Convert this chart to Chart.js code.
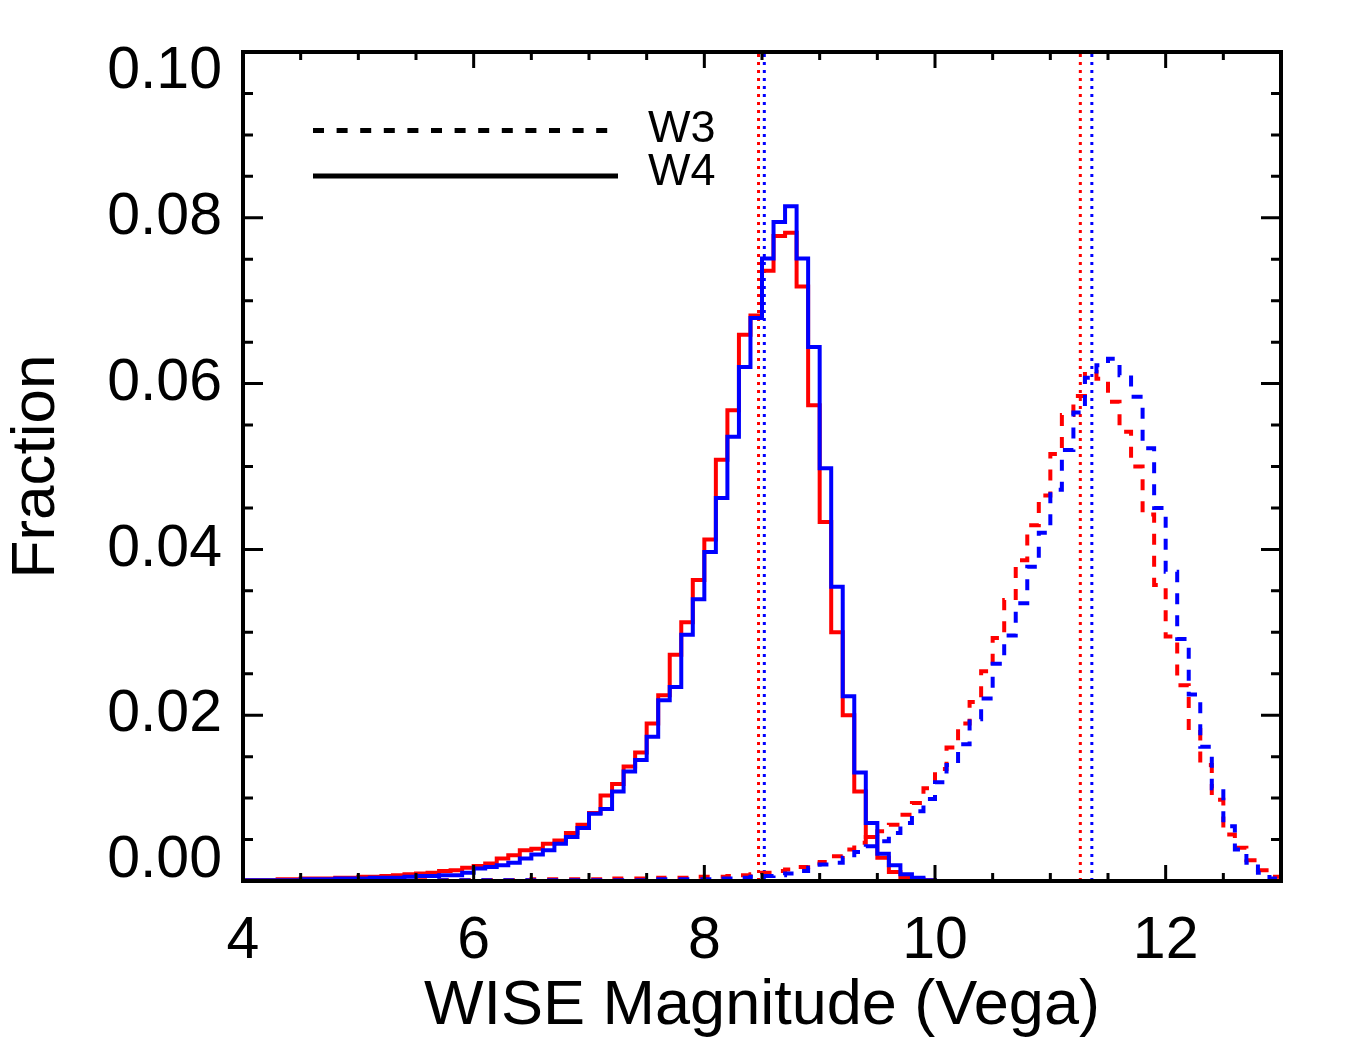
<!DOCTYPE html>
<html>
<head>
<meta charset="utf-8">
<title>WISE magnitude histograms</title>
<script src="https://cdn.jsdelivr.net/npm/chart.js@4.4.1/dist/chart.umd.min.js"></script>
<style>
  html, body { margin: 0; padding: 0; background: #fff; }
</style>
</head>
<body>
<canvas id="chart" width="1350" height="1050" style="width:1350px;height:1050px;display:block"></canvas>
<script>
'use strict';

// bin edges (mag), 0.1 wide
const binEdges = [
  4.0, 4.1, 4.2, 4.3, 4.4, 4.5, 4.6, 4.7, 4.8, 4.9,
  5.0, 5.1, 5.2, 5.3, 5.4, 5.5, 5.6, 5.7, 5.8, 5.9,
  6.0, 6.1, 6.2, 6.3, 6.4, 6.5, 6.6, 6.7, 6.8, 6.9,
  7.0, 7.1, 7.2, 7.3, 7.4, 7.5, 7.6, 7.7, 7.8, 7.9,
  8.0, 8.1, 8.2, 8.3, 8.4, 8.5, 8.6, 8.7, 8.8, 8.9,
  9.0, 9.1, 9.2, 9.3, 9.4, 9.5, 9.6, 9.7, 9.8, 9.9,
  10.0, 10.1, 10.2, 10.3, 10.4, 10.5, 10.6, 10.7, 10.8, 10.9,
  11.0, 11.1, 11.2, 11.3, 11.4, 11.5, 11.6, 11.7, 11.8, 11.9,
  12.0, 12.1, 12.2, 12.3, 12.4, 12.5, 12.6, 12.7, 12.8, 12.9,
  13.0
];

// index of the first bin of each band in binEdges
const w4FirstBin = 0;   // 4.0
const w3FirstBin = 15;  // 5.5

// W4 fractions, 4.0 - 10.0
const w4Red = [
  0.0001, 0.0001, 0.0001, 0.0002, 0.0002, 0.0003, 0.0003, 0.0003, 0.0004, 0.0004,
  0.0005, 0.0005, 0.0006, 0.0007, 0.0008, 0.0009, 0.0010, 0.0012, 0.0013, 0.0016,
  0.0018, 0.0021, 0.0027, 0.0031, 0.0037, 0.0039, 0.0045, 0.0049, 0.0058, 0.0068,
  0.0082, 0.0103, 0.0117, 0.0138, 0.0155, 0.0190, 0.0224, 0.0273, 0.0312, 0.0363,
  0.0412, 0.0508, 0.0568, 0.0659, 0.0682, 0.0736, 0.0778, 0.0782, 0.0717, 0.0574,
  0.0433, 0.0300, 0.0200, 0.0108, 0.0053, 0.0028, 0.0011, 0.0004, 0.0002, 0.0001
];
const w4Blue = [
  0.0001, 0.0001, 0.0001, 0.0001, 0.0001, 0.0002, 0.0002, 0.0002, 0.0003, 0.0003,
  0.0003, 0.0004, 0.0004, 0.0004, 0.0005, 0.0006, 0.0006, 0.0007, 0.0007, 0.0010,
  0.0015, 0.0017, 0.0019, 0.0022, 0.0027, 0.0032, 0.0037, 0.0045, 0.0053, 0.0064,
  0.0081, 0.0087, 0.0108, 0.0132, 0.0146, 0.0174, 0.0218, 0.0234, 0.0297, 0.0340,
  0.0397, 0.0462, 0.0536, 0.0620, 0.0679, 0.0751, 0.0795, 0.0814, 0.0751, 0.0644,
  0.0498, 0.0355, 0.0223, 0.0131, 0.0070, 0.0033, 0.0019, 0.0008, 0.0004, 0.0001
];

// W3 fractions, 5.5 - 13.0
const w3Red = [
  0.0001, 0.0001, 0.0001, 0.0001, 0.0001,
  0.0001, 0.0001, 0.0001, 0.0001, 0.0001, 0.0002, 0.0002, 0.0002, 0.0002, 0.0002,
  0.0002, 0.0002, 0.0003, 0.0003, 0.0003, 0.0003, 0.0004, 0.0004, 0.0004, 0.0005,
  0.0005, 0.0005, 0.0006, 0.0007, 0.0008, 0.0010, 0.0012, 0.0014, 0.0017, 0.0021,
  0.0023, 0.0030, 0.0038, 0.0046, 0.0053, 0.0060, 0.0068, 0.0080, 0.0094, 0.0112,
  0.0135, 0.0161, 0.0190, 0.0216, 0.0253, 0.0293, 0.0339, 0.0387, 0.0429, 0.0465,
  0.0515, 0.0562, 0.0585, 0.0614, 0.0606, 0.0578, 0.0542, 0.0500, 0.0442, 0.0357,
  0.0295, 0.0236, 0.0182, 0.0140, 0.0098, 0.0056, 0.0040, 0.0025, 0.0013, 0.0005
];
const w3Blue = [
  0.0000, 0.0000, 0.0001, 0.0001, 0.0001,
  0.0001, 0.0001, 0.0001, 0.0001, 0.0001, 0.0001, 0.0001, 0.0001, 0.0001, 0.0001,
  0.0001, 0.0001, 0.0001, 0.0001, 0.0001, 0.0001, 0.0002, 0.0002, 0.0002, 0.0002,
  0.0002, 0.0003, 0.0003, 0.0004, 0.0005, 0.0006, 0.0007, 0.0009, 0.0012, 0.0016,
  0.0020, 0.0022, 0.0028, 0.0035, 0.0042, 0.0048, 0.0058, 0.0070, 0.0084, 0.0099,
  0.0119, 0.0140, 0.0165, 0.0195, 0.0220, 0.0262, 0.0296, 0.0335, 0.0379, 0.0420,
  0.0472, 0.0520, 0.0565, 0.0607, 0.0622, 0.0630, 0.0610, 0.0584, 0.0522, 0.0450,
  0.0373, 0.0292, 0.0225, 0.0162, 0.0112, 0.0066, 0.0038, 0.0022, 0.0010, 0.0003
];

// median magnitudes (W4, W3)
const medianRed = [8.47, 11.26];
const medianBlue = [8.52, 11.36];

const xTickValues = [4, 6, 8, 10, 12];
const yTickValues = [0, 0.02, 0.04, 0.06, 0.08, 0.10];
const legendLabels = ['W3', 'W4'];

const RED = '#ff0000';
const BLUE = '#0000ff';
const FONT = '"Liberation Sans", Arial, Helvetica, sans-serif';
const DASH = [11, 11];

function histPoints(values, first) {
  const pts = values.map((v, i) => ({ x: binEdges[first + i], y: v }));
  pts.push({ x: binEdges[first + values.length], y: 0 });
  return pts;
}

function histSet(values, first, color, dashed, order) {
  return {
    data: histPoints(values, first),
    borderColor: color,
    borderWidth: 4,
    borderDash: dashed ? DASH : [],
    stepped: 'before',
    pointRadius: 0,
    fill: false,
    borderJoinStyle: 'miter',
    order: order
  };
}

function medianSet(x, color) {
  return {
    data: [{ x: x, y: 0 }, { x: x, y: 0.1 }],
    borderColor: color,
    borderWidth: 3,
    borderDash: [3, 5],
    pointRadius: 0,
    fill: false,
    order: 3
  };
}

// frame, inward ticks on all sides, y labels, legend
const decorations = {
  id: 'decorations',
  afterDatasetsDraw(chart) {
    const { ctx, chartArea: a, scales: { x, y } } = chart;
    ctx.save();
    ctx.strokeStyle = '#000';
    ctx.setLineDash([]);

    ctx.lineWidth = 3;
    ctx.beginPath();
    for (let i = 0; i <= 18; i++) {
      const v = 4 + i * 0.5;
      const px = x.getPixelForValue(v);
      const len = i % 4 === 0 ? 16 : 8;
      ctx.moveTo(px, a.bottom);
      ctx.lineTo(px, a.bottom - len);
      ctx.moveTo(px, a.top);
      ctx.lineTo(px, a.top + len);
    }
    for (let i = 0; i <= 20; i++) {
      const py = y.getPixelForValue(i * 0.005);
      const len = i % 4 === 0 ? 20 : 10;
      ctx.moveTo(a.left, py);
      ctx.lineTo(a.left + len, py);
      ctx.moveTo(a.right, py);
      ctx.lineTo(a.right - len, py);
    }
    ctx.stroke();

    ctx.lineWidth = 4;
    ctx.strokeRect(a.left, a.top, a.right - a.left, a.bottom - a.top);

    // y tick labels, kept inside the frame at the ends
    ctx.fillStyle = '#000';
    ctx.font = '59px ' + FONT;
    ctx.textAlign = 'right';
    ctx.textBaseline = 'middle';
    yTickValues.forEach(v => {
      let py = y.getPixelForValue(v);
      py = Math.min(Math.max(py, a.top + 20), a.bottom - 20);
      ctx.fillText(v.toFixed(2), a.left - 21, py);
    });

    // legend
    ctx.lineWidth = 5;
    ctx.setLineDash([11, 12.6]);
    ctx.beginPath();
    ctx.moveTo(313, 130.5);
    ctx.lineTo(608, 130.5);
    ctx.stroke();
    ctx.setLineDash([]);
    ctx.beginPath();
    ctx.moveTo(313, 176);
    ctx.lineTo(618, 176);
    ctx.stroke();
    ctx.font = '45px ' + FONT;
    ctx.textAlign = 'left';
    ctx.textBaseline = 'alphabetic';
    ctx.fillText(legendLabels[0], 648, 142);
    ctx.fillText(legendLabels[1], 648, 185);
    ctx.restore();
  }
};

const chart = new Chart(document.getElementById('chart'), {
  type: 'line',
  data: {
    datasets: [
      medianSet(medianRed[0], RED),
      medianSet(medianBlue[0], BLUE),
      medianSet(medianRed[1], RED),
      medianSet(medianBlue[1], BLUE),
      histSet(w4Blue, w4FirstBin, BLUE, false, 0),
      histSet(w3Blue, w3FirstBin, BLUE, true, 0),
      histSet(w4Red, w4FirstBin, RED, false, 1),
      histSet(w3Red, w3FirstBin, RED, true, 1)
    ]
  },
  options: {
    responsive: false,
    animation: false,
    layout: { padding: { left: 0, right: 69, top: 52, bottom: 0 } },
    plugins: { legend: { display: false }, tooltip: { enabled: false } },
    scales: {
      x: {
        type: 'linear',
        min: 4,
        max: 13,
        afterFit(s) { s.height = 169; },
        afterBuildTicks(s) { s.ticks = xTickValues.map(v => ({ value: v })); },
        grid: { display: false, drawTicks: false },
        border: { display: false },
        ticks: {
          color: '#000',
          font: { family: FONT, size: 59 },
          padding: 25,
          maxRotation: 0,
          autoSkip: false
        },
        title: {
          display: true,
          text: 'WISE Magnitude (Vega)',
          color: '#000',
          font: { family: FONT, size: 63 },
          padding: { top: 0, bottom: 6 }
        }
      },
      y: {
        type: 'linear',
        min: 0,
        max: 0.1,
        afterFit(s) { s.width = 243; },
        afterBuildTicks(s) { s.ticks = yTickValues.map(v => ({ value: v })); },
        grid: { display: false, drawTicks: false },
        border: { display: false },
        ticks: { display: false },
        title: {
          display: true,
          text: 'Fraction',
          color: '#000',
          font: { family: FONT, size: 62 },
          padding: { top: 0, bottom: 0 }
        }
      }
    }
  },
  plugins: [decorations]
});
</script>
</body>
</html>
